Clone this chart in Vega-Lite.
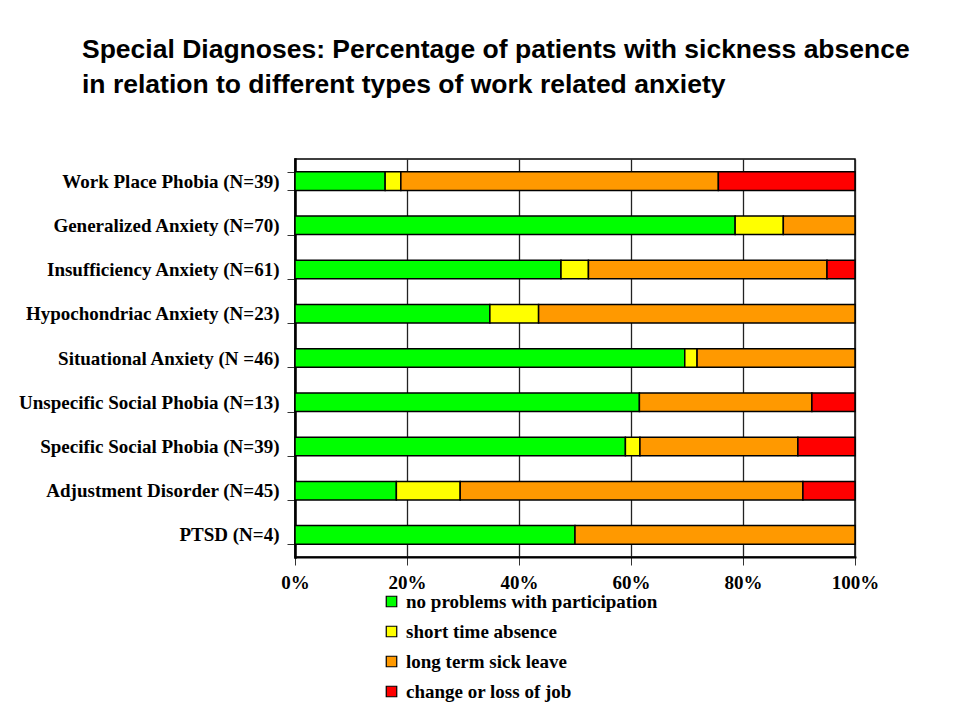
{
  "$schema": "https://vega.github.io/schema/vega-lite/v6.json",
  "width": 560,
  "height": 398,
  "autosize": {"type": "none"},
  "padding": {"left": 295, "top": 159, "right": 99, "bottom": 161},
  "background": "white",
  "title": {
    "text": ["Special Diagnoses: Percentage  of patients with sickness absence", "in relation to different types of work related anxiety"],
    "anchor": "start",
    "frame": "group",
    "dx": -213,
    "offset": 52,
    "font": "Liberation Sans",
    "fontSize": 26.5,
    "fontWeight": "bold",
    "color": "black",
    "lineHeight": 35
  },
  "data": {
    "values": [
      {"diagnosis": "Work Place Phobia (N=39)", "outcome": "no problems with participation", "rank": 1, "pct": 16.1},
      {"diagnosis": "Work Place Phobia (N=39)", "outcome": "short time absence", "rank": 2, "pct": 2.8},
      {"diagnosis": "Work Place Phobia (N=39)", "outcome": "long term sick leave", "rank": 3, "pct": 56.7},
      {"diagnosis": "Work Place Phobia (N=39)", "outcome": "change or loss of job", "rank": 4, "pct": 24.4},
      {"diagnosis": "Generalized Anxiety (N=70)", "outcome": "no problems with participation", "rank": 1, "pct": 78.6},
      {"diagnosis": "Generalized Anxiety (N=70)", "outcome": "short time absence", "rank": 2, "pct": 8.6},
      {"diagnosis": "Generalized Anxiety (N=70)", "outcome": "long term sick leave", "rank": 3, "pct": 12.8},
      {"diagnosis": "Insufficiency Anxiety (N=61)", "outcome": "no problems with participation", "rank": 1, "pct": 47.5},
      {"diagnosis": "Insufficiency Anxiety (N=61)", "outcome": "short time absence", "rank": 2, "pct": 4.9},
      {"diagnosis": "Insufficiency Anxiety (N=61)", "outcome": "long term sick leave", "rank": 3, "pct": 42.6},
      {"diagnosis": "Insufficiency Anxiety (N=61)", "outcome": "change or loss of job", "rank": 4, "pct": 5.0},
      {"diagnosis": "Hypochondriac Anxiety (N=23)", "outcome": "no problems with participation", "rank": 1, "pct": 34.8},
      {"diagnosis": "Hypochondriac Anxiety (N=23)", "outcome": "short time absence", "rank": 2, "pct": 8.7},
      {"diagnosis": "Hypochondriac Anxiety (N=23)", "outcome": "long term sick leave", "rank": 3, "pct": 56.5},
      {"diagnosis": "Situational Anxiety  (N =46)", "outcome": "no problems with participation", "rank": 1, "pct": 69.6},
      {"diagnosis": "Situational Anxiety  (N =46)", "outcome": "short time absence", "rank": 2, "pct": 2.2},
      {"diagnosis": "Situational Anxiety  (N =46)", "outcome": "long term sick leave", "rank": 3, "pct": 28.2},
      {"diagnosis": "Unspecific Social Phobia (N=13)", "outcome": "no problems with participation", "rank": 1, "pct": 61.5},
      {"diagnosis": "Unspecific Social Phobia (N=13)", "outcome": "long term sick leave", "rank": 3, "pct": 30.8},
      {"diagnosis": "Unspecific Social Phobia (N=13)", "outcome": "change or loss of job", "rank": 4, "pct": 7.7},
      {"diagnosis": "Specific Social Phobia (N=39)", "outcome": "no problems with participation", "rank": 1, "pct": 59.0},
      {"diagnosis": "Specific Social Phobia (N=39)", "outcome": "short time absence", "rank": 2, "pct": 2.6},
      {"diagnosis": "Specific Social Phobia (N=39)", "outcome": "long term sick leave", "rank": 3, "pct": 28.2},
      {"diagnosis": "Specific Social Phobia (N=39)", "outcome": "change or loss of job", "rank": 4, "pct": 10.2},
      {"diagnosis": "Adjustment Disorder (N=45)", "outcome": "no problems with participation", "rank": 1, "pct": 18.1},
      {"diagnosis": "Adjustment Disorder (N=45)", "outcome": "short time absence", "rank": 2, "pct": 11.4},
      {"diagnosis": "Adjustment Disorder (N=45)", "outcome": "long term sick leave", "rank": 3, "pct": 61.2},
      {"diagnosis": "Adjustment Disorder (N=45)", "outcome": "change or loss of job", "rank": 4, "pct": 9.3},
      {"diagnosis": "PTSD (N=4)", "outcome": "no problems with participation", "rank": 1, "pct": 50},
      {"diagnosis": "PTSD (N=4)", "outcome": "long term sick leave", "rank": 3, "pct": 50}
    ]
  },
  "mark": {"type": "bar", "stroke": "black", "strokeWidth": 1.5},
  "encoding": {
    "y": {
      "field": "diagnosis",
      "type": "nominal",
      "sort": null,
      "title": null,
      "scale": {"paddingInner": 0.58, "paddingOuter": 0.29},
      "axis": {
        "tickBand": "extent",
        "tickSize": 8,
        "tickColor": "#333",
        "domainColor": "black",
        "domainWidth": 2.5,
        "labelFont": "Liberation Serif",
        "labelFontSize": 19,
        "labelFontWeight": "bold",
        "labelColor": "black",
        "labelPadding": 8,
        "labelLimit": 300
      }
    },
    "x": {
      "field": "pct",
      "type": "quantitative",
      "stack": "zero",
      "title": null,
      "scale": {"domain": [0, 100], "nice": false},
      "axis": {
        "values": [0, 20, 40, 60, 80, 100],
        "labelExpr": "datum.value + '%'",
        "grid": true,
        "gridColor": "#222",
        "gridWidth": 1.3,
        "gridOpacity": 1,
        "tickSize": 8,
        "tickColor": "#333",
        "domainColor": "black",
        "domainWidth": 2,
        "labelFont": "Liberation Serif",
        "labelFontSize": 19,
        "labelFontWeight": "bold",
        "labelColor": "black",
        "labelPadding": 8,
        "labelFlush": false
      }
    },
    "order": {"field": "rank", "type": "quantitative", "sort": "ascending"},
    "color": {
      "field": "outcome",
      "type": "nominal",
      "sort": ["no problems with participation", "short time absence", "long term sick leave", "change or loss of job"],
      "scale": {
        "domain": ["no problems with participation", "short time absence", "long term sick leave", "change or loss of job"],
        "range": ["#00ff00", "#ffff00", "#ff9900", "#ff0000"]
      },
      "legend": {
        "title": null,
        "orient": "none",
        "legendX": 87,
        "legendY": 433,
        "symbolType": "square",
        "symbolSize": 110,
        "symbolStrokeColor": "black",
        "symbolStrokeWidth": 1.2,
        "symbolOpacity": 1,
        "labelFont": "Liberation Serif",
        "labelFontSize": 19,
        "labelFontWeight": "bold",
        "labelColor": "black",
        "labelLimit": 400,
        "rowPadding": 10,
        "labelOffset": 5
      }
    }
  },
  "config": {
    "view": {"stroke": "black", "strokeWidth": 1.5},
    "axis": {"domainCap": "square"}
  }
}
